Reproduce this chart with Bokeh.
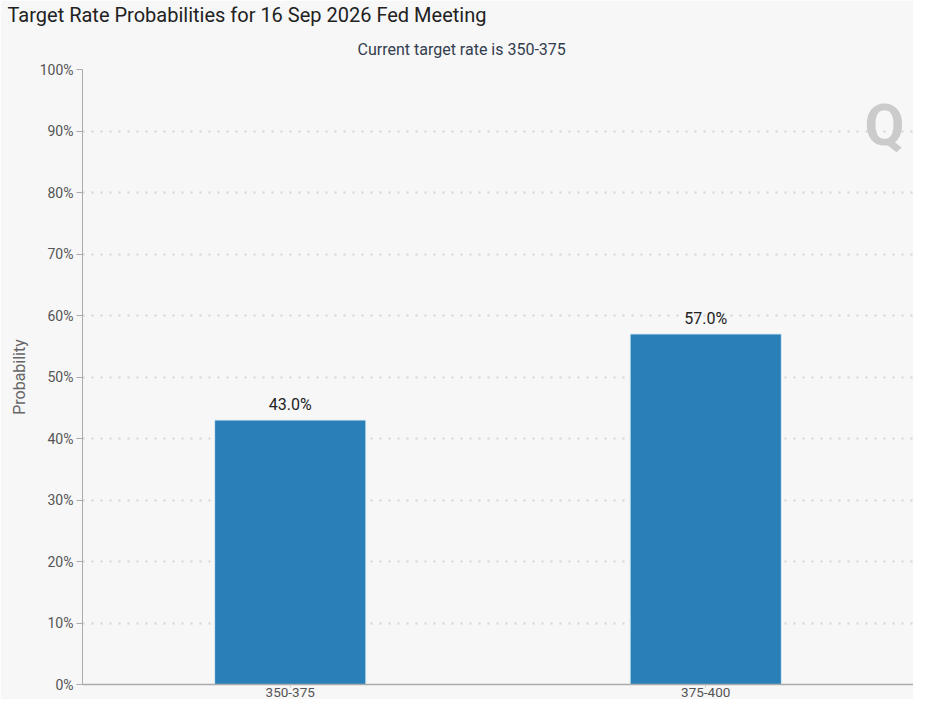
from bokeh.plotting import figure
from bokeh.models import ColumnDataSource, Title, PrintfTickFormatter, Label, FixedTicker
from bokeh.core.properties import value
from bokeh.embed import file_html
from bokeh.resources import INLINE

categories = ["350-375", "375-400"]
probabilities = [43.0, 57.0]
labels = [f"{v:.1f}%" for v in probabilities]
y_ticks = [0, 10, 20, 30, 40, 50, 60, 70, 80, 90, 100]

FONT = "Roboto"
BG = "#f7f7f7"

src = ColumnDataSource(dict(cat=categories, prob=probabilities, lab=labels))

p = figure(
    x_range=categories, y_range=(0, 100),
    width=913, height=699,
    output_backend="svg", toolbar_location=None, title=None,
    background_fill_color=BG, border_fill_color=BG,
    min_border_left=82, min_border_right=0, min_border_top=0, min_border_bottom=0,
)
p.outline_line_color = None

p.vbar(x="cat", top="prob", width=0.364, source=src,
       fill_color="#2a7fb8", line_color="#d8ecf6", line_width=1)
p.text(x="cat", y="prob", text="lab", source=src,
       text_align="center", text_baseline="bottom", y_offset=-6,
       text_font=value(FONT), text_font_size="16px", text_color="#222222")

# grid
p.xgrid.grid_line_color = None
p.ygrid.grid_line_color = "#d4d4d4"
p.ygrid.grid_line_dash = "2 7"
p.ygrid.grid_line_width = 2
p.ygrid.ticker = FixedTicker(ticks=y_ticks)

# y axis
p.yaxis.ticker = FixedTicker(ticks=y_ticks)
p.yaxis.formatter = PrintfTickFormatter(format="%d%%")
p.yaxis.axis_label = "Probability"
p.yaxis.axis_label_text_font = FONT
p.yaxis.axis_label_text_font_style = "normal"
p.yaxis.axis_label_text_font_size = "16px"
p.yaxis.axis_label_text_color = "#666666"
p.yaxis.axis_label_standoff = 8
p.yaxis.major_label_text_font = FONT
p.yaxis.major_label_text_font_size = "14px"
p.yaxis.major_label_text_color = "#555555"
p.yaxis.axis_line_color = "#aaaaaa"
p.yaxis.major_tick_line_color = "#aaaaaa"
p.yaxis.major_tick_out = 6
p.yaxis.major_tick_in = 0
p.yaxis.minor_tick_line_color = None
p.yaxis.major_label_standoff = 3

# x axis
p.xaxis.major_label_text_font = FONT
p.xaxis.major_label_text_font_size = "13.5px"
p.xaxis.major_label_text_color = "#555555"
p.xaxis.axis_line_color = "#aaaaaa"
p.xaxis.axis_line_width = 1.5
p.xaxis.major_tick_line_color = "#cccccc"
p.xaxis.major_tick_out = 3
p.xaxis.major_tick_in = 0
p.xaxis.major_label_standoff = 0

# Q watermark
p.add_layout(Label(x=1.93, y=91, text="Q", text_font=FONT, text_font_style="bold",
                   text_font_size="58px", text_color="#cbcbcb",
                   text_align="center", text_baseline="middle"))

# titles
p.add_layout(Title(text="Current target rate is 350-375", align="left", offset=275,
                   text_font=FONT, text_font_size="16px", text_font_style="normal",
                   text_color="#333d4f", standoff=22), "above")
p.add_layout(Title(text="Target Rate Probabilities for 16 Sep 2026 Fed Meeting", align="left",
                   offset=-75, text_font=FONT, text_font_size="20px", text_font_style="normal",
                   text_color="#222222", standoff=0), "above")

open("out.html", "w").write(file_html(p, INLINE))
